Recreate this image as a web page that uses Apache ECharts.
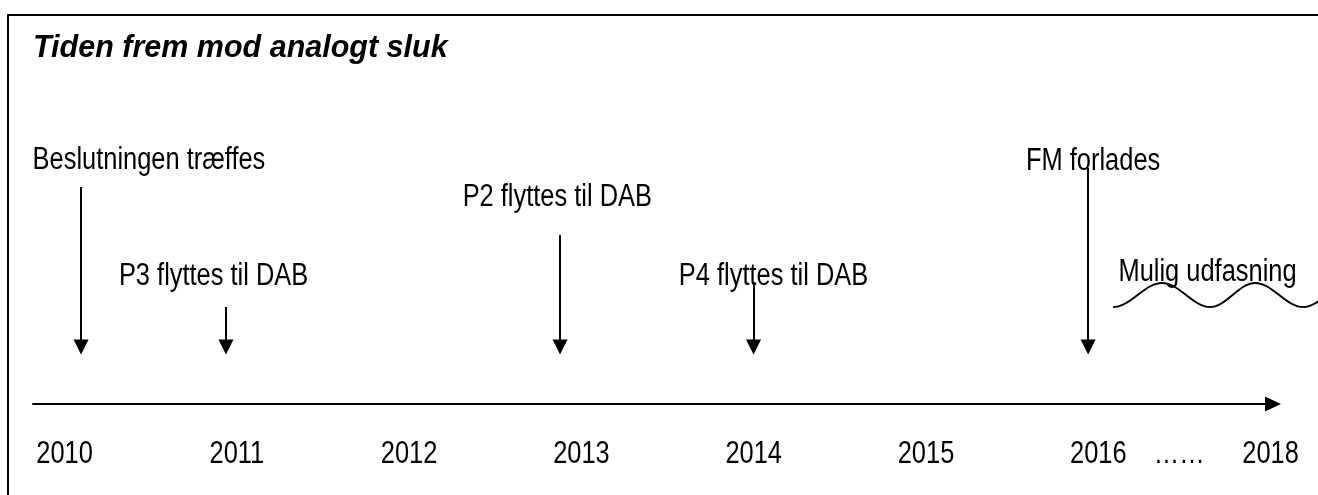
<!DOCTYPE html>
<html>
<head>
<meta charset="utf-8">
<script src="https://cdn.jsdelivr.net/npm/echarts@6/dist/echarts.min.js"></script>
<style>
html, body { margin: 0; padding: 0; background: #fff; }
#chart { width: 1318px; height: 495px; }
</style>
</head>
<body>
<div id="chart"></div>
<script>
// tidslinje, aar paa x-aksen (2018 er trykket ind lige efter 2016)
var tickValues = [2010, 2011, 2012, 2013, 2014, 2015, 2016, 2016.47, 2017];
var tickLabels = ['2010', '2011', '2012', '2013', '2014', '2015', '2016', '……', '2018'];

var eventNames = ['Beslutningen træffes', 'P3 flyttes til DAB', 'P2 flyttes til DAB', 'P4 flyttes til DAB', 'FM forlades', 'Mulig udfasning'];
var labelYears = [2010.49, 2010.865, 2012.86, 2014.115, 2015.97, 2016.634];
var labelLevels = [244, 128, 207, 128, 243, 132];

var arrowYears = [2010.096, 2010.937, 2012.876, 2013.999, 2015.941];
var arrowTops = [217, 97, 169, 122, 236];
var arrowTip = 57;

var waveYears = [2016.086, 2016.37, 2016.649, 2016.91, 2017.189, 2017.462];
var waveLevels = [97, 121, 97, 121, 97, 121];

var yearLevel = -50;

var font = '31px "Liberation Sans", Arial, sans-serif';
var narrow = 0.82;

function narrowText(texts) {
    return function (params, api) {
        var p = api.coord([api.value(0), api.value(1)]);
        return {
            type: 'text',
            x: p[0],
            y: p[1],
            scaleX: narrow,
            style: {
                text: texts[params.dataIndex],
                font: font,
                fill: '#000',
                align: 'center',
                verticalAlign: 'middle'
            }
        };
    };
}

var option = {
    animation: false,
    backgroundColor: '#fff',
    title: {
        text: 'Tiden frem mod analogt sluk',
        left: 33,
        top: 34,
        padding: 0,
        textStyle: {
            fontFamily: '"Liberation Sans", Arial, sans-serif',
            fontStyle: 'italic',
            fontWeight: 'bold',
            fontSize: 30.5,
            color: '#000'
        }
    },
    graphic: [
        {
            type: 'rect',
            shape: { x: 8, y: 15, width: 1340, height: 520 },
            style: { fill: 'none', stroke: '#000', lineWidth: 2 },
            z: 10
        }
    ],
    grid: { left: 33, right: 45, top: 15, bottom: 91 },
    xAxis: {
        type: 'value',
        min: 2009.817,
        max: 2017.014,
        splitLine: { show: false },
        axisTick: { show: false },
        axisLabel: { show: false },
        axisLine: {
            show: true,
            symbol: ['none', 'triangle'],
            symbolSize: [15, 16],
            lineStyle: { color: '#000', width: 2 }
        }
    },
    yAxis: {
        type: 'value',
        min: 0,
        max: 389,
        show: false
    },
    series: [
        {
            type: 'lines',
            coordinateSystem: 'cartesian2d',
            symbol: ['none', 'triangle'],
            symbolSize: 15,
            lineStyle: { color: '#000', width: 2, opacity: 1 },
            data: arrowYears.map(function (x, i) {
                return { coords: [[x, arrowTops[i]], [x, arrowTip]] };
            }),
            z: 3
        },
        {
            // boelgelinjen under "Mulig udfasning"
            type: 'custom',
            clip: false,
            encode: { x: [0, 2], y: [1, 3] },
            data: waveYears.slice(0, -1).map(function (x, i) {
                return [x, waveLevels[i], waveYears[i + 1], waveLevels[i + 1]];
            }),
            renderItem: function (params, api) {
                var a = api.coord([api.value(0), api.value(1)]);
                var b = api.coord([api.value(2), api.value(3)]);
                var k = 0.3642 * (b[0] - a[0]);
                return {
                    type: 'bezierCurve',
                    shape: {
                        x1: a[0], y1: a[1],
                        cpx1: a[0] + k, cpy1: a[1],
                        cpx2: b[0] - k, cpy2: b[1],
                        x2: b[0], y2: b[1]
                    },
                    style: { stroke: '#000', lineWidth: 2, fill: null }
                };
            },
            z: 3
        },
        {
            type: 'custom',
            clip: false,
            data: labelYears.map(function (x, i) { return [x, labelLevels[i]]; }),
            renderItem: narrowText(eventNames),
            z: 2
        },
        {
            type: 'custom',
            clip: false,
            data: tickValues.map(function (x) { return [x, yearLevel]; }),
            renderItem: narrowText(tickLabels),
            z: 2
        }
    ]
};

var myChart = echarts.init(document.getElementById('chart'));
myChart.setOption(option);
</script>
</body>
</html>
